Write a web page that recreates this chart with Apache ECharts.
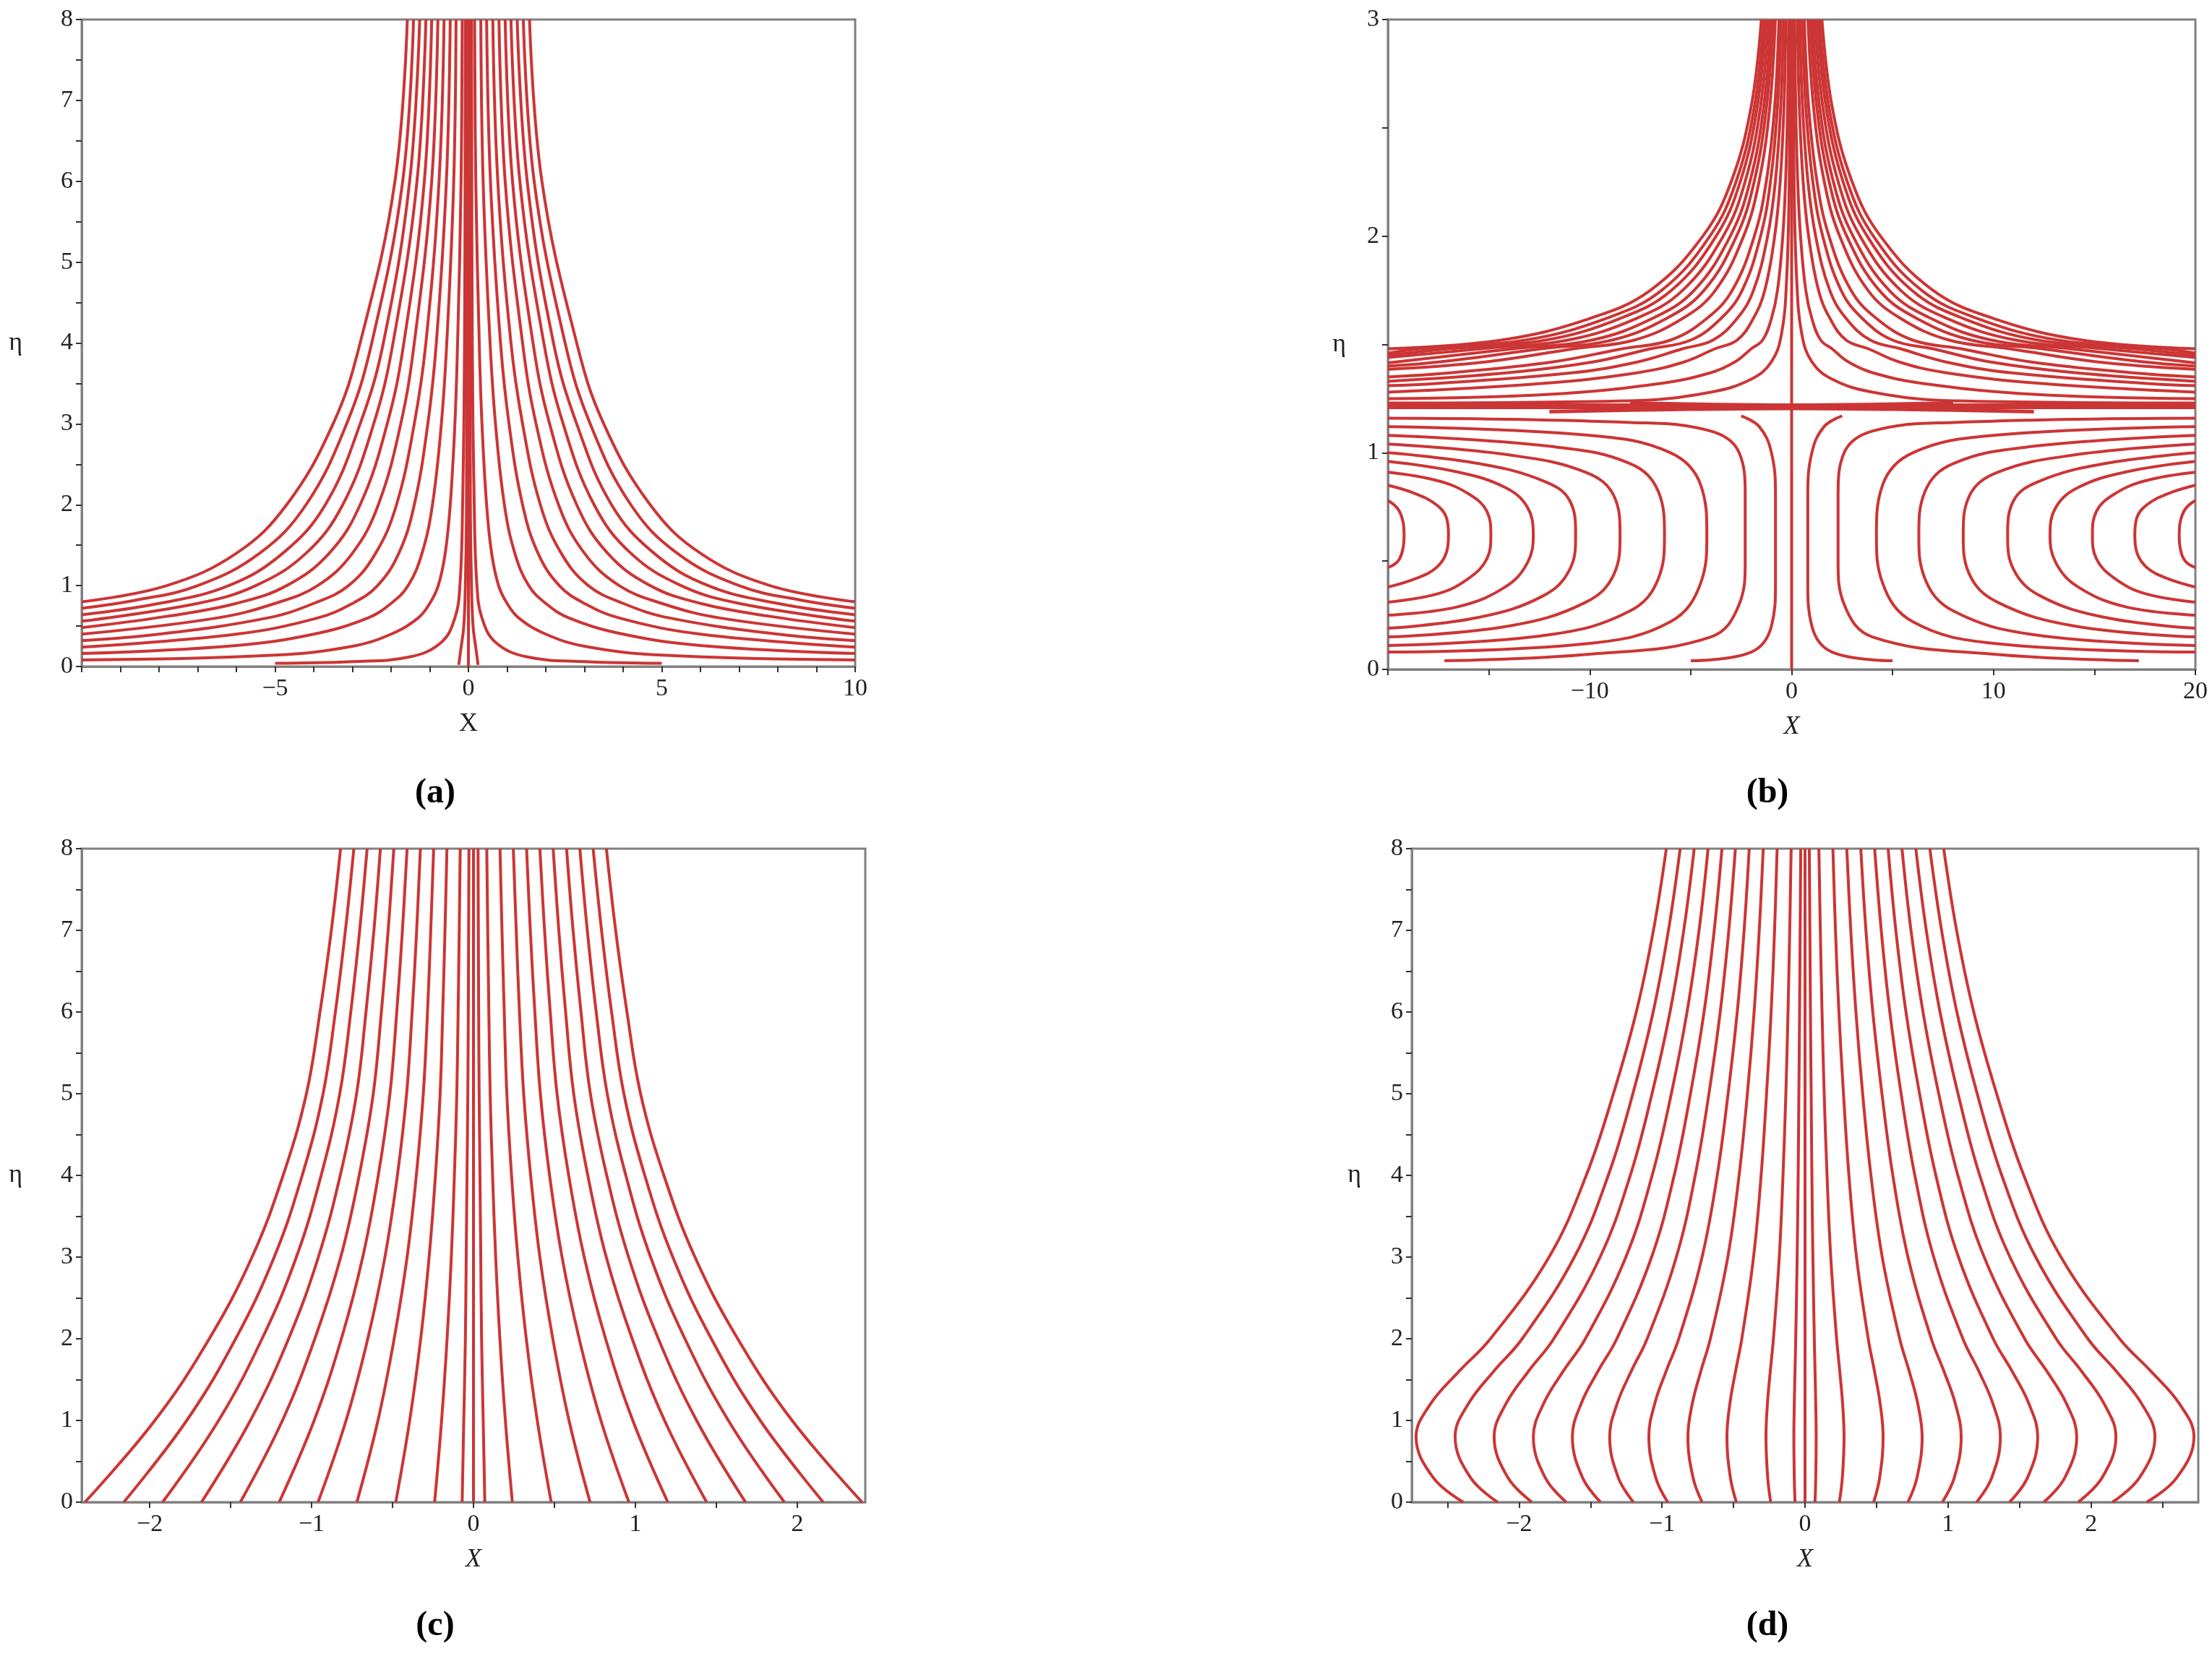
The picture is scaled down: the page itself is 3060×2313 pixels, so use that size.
<!DOCTYPE html>
<html>
<head>
<meta charset="utf-8">
<script src="https://cdn.jsdelivr.net/npm/echarts@6/dist/echarts.min.js"></script>
<style>html,body{margin:0;padding:0;background:#fff}#main{width:3060px;height:2313px}</style>
</head>
<body>
<div id="main"></div>
<script>
var chart = echarts.init(document.getElementById('main'));

// ---- panel (a): right-half streamlines [x, eta], mirrored to the left
var curvesA = [
  [[1.58,8],[1.9,6],[2.8,4],[3.5,3],[4.7,2],[6,1.4],[7.8,1],[10,0.8]],
  [[1.42,8],[1.7,6],[2.5,4],[3.15,3],[4.2,2],[5.4,1.4],[7,1],[8.6,0.82],[10,0.72]],
  [[1.26,8],[1.52,6],[2.2,4],[2.8,3],[3.7,2],[4.8,1.4],[6.2,1],[8,0.78],[10,0.64]],
  [[1.1,8],[1.33,6],[1.95,4],[2.45,3],[3.25,2],[4.2,1.4],[5.5,1],[7,0.78],[10,0.56]],
  [[0.95,8],[1.14,6],[1.67,4],[2.1,3],[2.8,2],[3.6,1.4],[4.7,1],[6,0.78],[7.8,0.62],[10,0.48]],
  [[0.79,8],[0.95,6],[1.4,4],[1.75,3],[2.33,2],[3,1.4],[3.9,1],[5,0.78],[6.5,0.6],[10,0.4]],
  [[0.63,8],[0.76,6],[1.1,4],[1.4,3],[1.86,2],[2.4,1.4],[3.1,1],[4,0.78],[5.2,0.6],[8,0.4],[10,0.32]],
  [[0.47,8],[0.57,6],[0.83,4],[1.05,3],[1.4,2],[1.8,1.4],[2.35,1],[3,0.78],[3.9,0.6],[6,0.4],[10,0.24]],
  [[0.32,8],[0.38,6],[0.56,4],[0.7,3],[0.93,2],[1.2,1.4],[1.56,1],[2,0.78],[2.6,0.6],[4,0.4],[6,0.26],[10,0.16]],
  [[0.16,8],[0.19,6],[0.28,4],[0.35,3],[0.47,2],[0.6,1.4],[0.78,1],[1,0.78],[1.3,0.6],[2,0.4],[3,0.25],[5,0.14],[10,0.08]],
  [[0.08,8],[0.1,4],[0.15,2],[0.22,1],[0.35,0.6],[0.7,0.3],[1.5,0.12],[3,0.06],[5,0.04]],
  [[0.03,8],[0.05,2],[0.08,1],[0.12,0.5],[0.2,0.2],[0.25,0.02]]
];
var centerA = [[0,0],[0,8]];

// ---- panel (b)
var upperB = [
  [[1.5,3],[2,2.6],[3,2.25],[4.4,2],[7,1.75],[10,1.62],[14.4,1.52],[20,1.48]],
  [[1.38,3],[1.84,2.6],[2.76,2.25],[4.05,2],[6.44,1.75],[9.2,1.62],[13.2,1.52],[18.4,1.48],[20,1.46]],
  [[1.28,3],[1.7,2.6],[2.55,2.25],[3.74,2],[5.95,1.75],[8.5,1.62],[12.2,1.52],[17,1.48],[20,1.45]],
  [[1.16,3],[1.54,2.6],[2.31,2.25],[3.39,2],[5.4,1.75],[7.7,1.62],[11.1,1.52],[15.4,1.48],[20,1.44]],
  [[1.04,3],[1.38,2.6],[2.07,2.25],[3.04,2],[4.83,1.75],[6.9,1.62],[9.9,1.52],[13.8,1.48],[20,1.415]],
  [[0.93,3],[1.24,2.6],[1.86,2.25],[2.73,2],[4.34,1.75],[6.2,1.62],[8.9,1.52],[12.4,1.48],[17.4,1.42],[20,1.40]],
  [[0.81,3],[1.08,2.6],[1.62,2.25],[2.38,2],[3.78,1.75],[5.4,1.62],[7.8,1.52],[10.8,1.48],[15.1,1.42],[20,1.385]],
  [[0.63,3],[0.84,2.6],[1.26,2.25],[1.85,2],[2.94,1.75],[4.2,1.62],[6,1.52],[8.4,1.48],[11.8,1.42],[16.8,1.37],[20,1.35]],
  [[0.53,3],[0.7,2.6],[1.05,2.25],[1.54,2],[2.45,1.75],[3.5,1.62],[5,1.52],[7,1.48],[9.8,1.42],[14,1.37],[20,1.33]],
  [[0.4,3],[0.54,2.6],[0.81,2.25],[1.19,2],[1.89,1.75],[2.7,1.62],[3.9,1.52],[5.4,1.48],[7.6,1.42],[10.8,1.37],[17.6,1.32],[20,1.31]],
  [[0.29,3],[0.38,2.6],[0.57,2.25],[0.84,2],[1.33,1.75],[1.9,1.62],[2.7,1.52],[3.8,1.48],[5.3,1.42],[7.6,1.37],[12.4,1.32],[20,1.28]],
  [[0.15,3],[0.2,2.6],[0.3,2.25],[0.44,2],[0.7,1.75],[1,1.62],[1.44,1.52],[2,1.48],[2.8,1.42],[4,1.37],[6.5,1.32],[12,1.27],[20,1.25]],
  [[0.06,3],[0.12,2.25],[0.25,1.8],[0.5,1.55],[1,1.42],[2,1.34],[4,1.28],[8,1.24],[20,1.23]]
];
var lowerB = [
  [[20,0.78],[19.5,0.74],[19.25,0.68],[19.2,0.62],[19.25,0.56],[19.5,0.5],[20,0.47]],
  [[20,0.85],[18.6,0.81],[17.6,0.76],[17.1,0.7],[17,0.62],[17.1,0.54],[17.6,0.47],[18.6,0.42],[20,0.38]],
  [[20,0.91],[17.5,0.87],[16,0.81],[15.1,0.73],[14.9,0.62],[15.1,0.51],[16,0.42],[17.5,0.35],[20,0.31]],
  [[20,0.96],[16.5,0.91],[14.2,0.84],[13.1,0.75],[12.8,0.62],[13.1,0.49],[14.2,0.38],[16.5,0.29],[20,0.25]],
  [[20,1.0],[15.5,0.95],[12.3,0.87],[11,0.78],[10.7,0.62],[11,0.46],[12.3,0.34],[15.5,0.24],[20,0.19]],
  [[20,1.04],[14,0.99],[10.2,0.91],[8.8,0.8],[8.5,0.62],[8.8,0.44],[10.2,0.31],[14,0.2],[20,0.15]],
  [[20,1.08],[12,1.03],[8,0.95],[6.6,0.82],[6.3,0.62],[6.6,0.42],[8,0.27],[12,0.16],[20,0.11]],
  [[20,1.12],[10,1.08],[6,1.0],[4.5,0.85],[4.2,0.62],[4.5,0.4],[6,0.22],[10,0.12],[20,0.08]],
  [[20,1.16],[8,1.14],[4,1.1],[2.6,1.0],[2.3,0.8],[2.3,0.5],[2.6,0.3],[4,0.15],[10,0.07],[17.2,0.04]],
  [[2.5,1.17],[1.6,1.12],[1.0,1.0],[0.8,0.8],[0.8,0.4],[1.0,0.2],[2,0.08],[5,0.04]]
];
var sepB = [[-20,1.215],[20,1.215]];
var lensB = [[[-12,1.19],[-6,1.2],[0,1.205],[6,1.2],[12,1.19]], [[-8,1.23],[0,1.22],[8,1.23]]];
var centerB = [[0,0],[0,3]];

// ---- panel (c): x positions of right-half curves at each eta level
var etaC = [0,1,2,3,4,5,6,7,8];
var curvesC = [
  [0.07,0.06,0.05,0.045,0.04,0.035,0.032,0.03,0.028],
  [0.24,0.197,0.163,0.137,0.118,0.103,0.095,0.088,0.082],
  [0.48,0.394,0.326,0.274,0.235,0.206,0.19,0.176,0.164],
  [0.72,0.59,0.49,0.41,0.353,0.31,0.284,0.264,0.246],
  [0.96,0.787,0.653,0.547,0.47,0.413,0.379,0.351,0.328],
  [1.2,0.984,0.816,0.684,0.588,0.516,0.474,0.439,0.41],
  [1.44,1.18,0.98,0.82,0.706,0.619,0.569,0.527,0.492],
  [1.68,1.378,1.142,0.958,0.823,0.722,0.664,0.615,0.575],
  [1.92,1.574,1.306,1.094,0.941,0.826,0.758,0.703,0.657],
  [2.16,1.771,1.469,1.231,1.058,0.929,0.853,0.791,0.739],
  [2.4,1.968,1.632,1.368,1.176,1.032,0.948,0.878,0.821]
];

// ---- panel (d)
var etaD = [0,0.3,0.8,1.2,1.6,2,3,4,5,6,7,8];
var curvesD = [
  [0.07,0.075,0.078,0.075,0.07,0.065,0.055,0.048,0.043,0.038,0.034,0.03],
  [0.24,0.261,0.273,0.263,0.243,0.221,0.18,0.154,0.134,0.119,0.107,0.097],
  [0.48,0.522,0.546,0.526,0.486,0.442,0.36,0.307,0.269,0.237,0.213,0.195],
  [0.72,0.783,0.819,0.789,0.729,0.662,0.54,0.461,0.403,0.356,0.32,0.292],
  [0.96,1.044,1.092,1.052,0.972,0.883,0.72,0.614,0.538,0.474,0.426,0.39],
  [1.2,1.306,1.366,1.315,1.216,1.104,0.9,0.768,0.672,0.593,0.533,0.487],
  [1.43,1.556,1.627,1.567,1.449,1.316,1.073,0.915,0.801,0.706,0.635,0.581],
  [1.67,1.817,1.9,1.83,1.692,1.536,1.253,1.069,0.935,0.825,0.741,0.678],
  [1.91,2.078,2.174,2.093,1.935,1.757,1.433,1.222,1.07,0.944,0.848,0.775],
  [2.15,2.339,2.447,2.356,2.178,1.978,1.613,1.376,1.204,1.062,0.955,0.873],
  [2.39,2.6,2.72,2.62,2.42,2.2,1.79,1.53,1.34,1.18,1.06,0.97]
];

var RED = '#cc3535';
var FONT = 'Liberation Serif';
var series = [];

function mirror(pts) { return pts.map(function (p) { return [-p[0], p[1]]; }); }
function addLine(idx, pts, w) {
  series.push({
    type: 'line', xAxisIndex: idx, yAxisIndex: idx, data: pts,
    showSymbol: false, smooth: 0.4, silent: true,
    lineStyle: { color: RED, width: w || 4 }
  });
}
function addSym(idx, pts) { addLine(idx, pts); addLine(idx, mirror(pts)); }
function zipEta(xs, eta) { return xs.map(function (v, i) { return [v, eta[i]]; }); }

curvesA.forEach(function (c) { addSym(0, c); });
addLine(0, centerA);
upperB.forEach(function (c) { addSym(1, c); });
lowerB.forEach(function (c) { addSym(1, c); });
addLine(1, sepB, 8);
lensB.forEach(function (c) { addLine(1, c, 5); });
addLine(1, centerB);
curvesC.forEach(function (c) { addSym(2, zipEta(c, etaC)); });
addLine(2, [[0,0],[0,8]]);
curvesD.forEach(function (c) { addSym(3, zipEta(c, etaD)); });
addLine(3, [[0,0],[0,8]]);

var grids = [
  { left: 113, top: 27, width: 1070, height: 895 },
  { left: 1920, top: 27, width: 1117, height: 899 },
  { left: 113, top: 1174, width: 1084, height: 904 },
  { left: 1953, top: 1174, width: 1088, height: 904 }
];
grids.forEach(function (g) { g.show = true; g.borderColor = '#808080'; g.borderWidth = 3; g.backgroundColor = '#fff'; });

function xAx(idx, min, max, labels, ticks, italic) {
  return {
    type: 'value', gridIndex: idx, min: min, max: max,
    name: 'X', nameLocation: 'middle', nameGap: 62,
    nameTextStyle: { fontFamily: FONT, fontSize: 36, color: '#222', fontStyle: italic ? 'italic' : 'normal' },
    axisLine: { onZero: false, lineStyle: { color: '#808080', width: 3 } },
    axisTick: { customValues: ticks, length: 8, lineStyle: { color: '#333', width: 2 } },
    axisLabel: { customValues: labels, fontFamily: FONT, fontSize: 34, color: '#222', margin: 14,
      formatter: function (v) { return v < 0 ? '\u2212' + (-v) : String(v); } },
    splitLine: { show: false }
  };
}
function yAx(idx, max, labels, ticks, gap) {
  return {
    type: 'value', gridIndex: idx, min: 0, max: max,
    name: '\u03b7', nameLocation: 'middle', nameRotate: 0, nameGap: gap,
    nameTextStyle: { fontFamily: FONT, fontSize: 36, color: '#222' },
    axisLine: { onZero: false, lineStyle: { color: '#808080', width: 3 } },
    axisTick: { customValues: ticks, length: 8, lineStyle: { color: '#333', width: 2 } },
    axisLabel: { customValues: labels, fontFamily: FONT, fontSize: 34, color: '#222', margin: 12 },
    splitLine: { show: false }
  };
}

var yLab8 = [0,1,2,3,4,5,6,7,8];
var yTick8 = [0,0.5,1,1.5,2,2.5,3,3.5,4,4.5,5,5.5,6,6.5,7,7.5,8];
var xTickA = [-10,-9,-8,-7,-6,-5,-4,-3,-2,-1,0,1,2,3,4,5,6,7,8,9,10];
var xTickB = [-20,-15,-10,-5,0,5,10,15,20];
var xTickCD = [-2.5,-2,-1.5,-1,-0.5,0,0.5,1,1.5,2,2.5];

var option = {
  animation: false,
  backgroundColor: '#fff',
  grid: grids,
  xAxis: [
    xAx(0, -10, 10, [-5,0,5,10], xTickA, false),
    xAx(1, -20, 20, [-10,0,10,20], xTickB, true),
    xAx(2, -2.42, 2.42, [-2,-1,0,1,2], xTickCD.slice(1, 10), true),
    xAx(3, -2.75, 2.75, [-2,-1,0,1,2], xTickCD, true)
  ],
  yAxis: [
    yAx(0, 8, yLab8, yTick8, 82),
    yAx(1, 3, [0,1,2,3], [0,0.5,1,1.5,2,2.5,3], 58),
    yAx(2, 8, yLab8, yTick8, 82),
    yAx(3, 8, yLab8, yTick8, 70)
  ],
  graphic: [
    { type: 'text', x: 602, y: 1098, style: { text: '(a)', font: 'bold 48px "Liberation Serif"', fill: '#000', textAlign: 'center', textVerticalAlign: 'middle' } },
    { type: 'text', x: 2445, y: 1098, style: { text: '(b)', font: 'bold 48px "Liberation Serif"', fill: '#000', textAlign: 'center', textVerticalAlign: 'middle' } },
    { type: 'text', x: 602, y: 2250, style: { text: '(c)', font: 'bold 48px "Liberation Serif"', fill: '#000', textAlign: 'center', textVerticalAlign: 'middle' } },
    { type: 'text', x: 2445, y: 2250, style: { text: '(d)', font: 'bold 48px "Liberation Serif"', fill: '#000', textAlign: 'center', textVerticalAlign: 'middle' } }
  ],
  series: series
};

chart.setOption(option);
</script>
</body>
</html>
